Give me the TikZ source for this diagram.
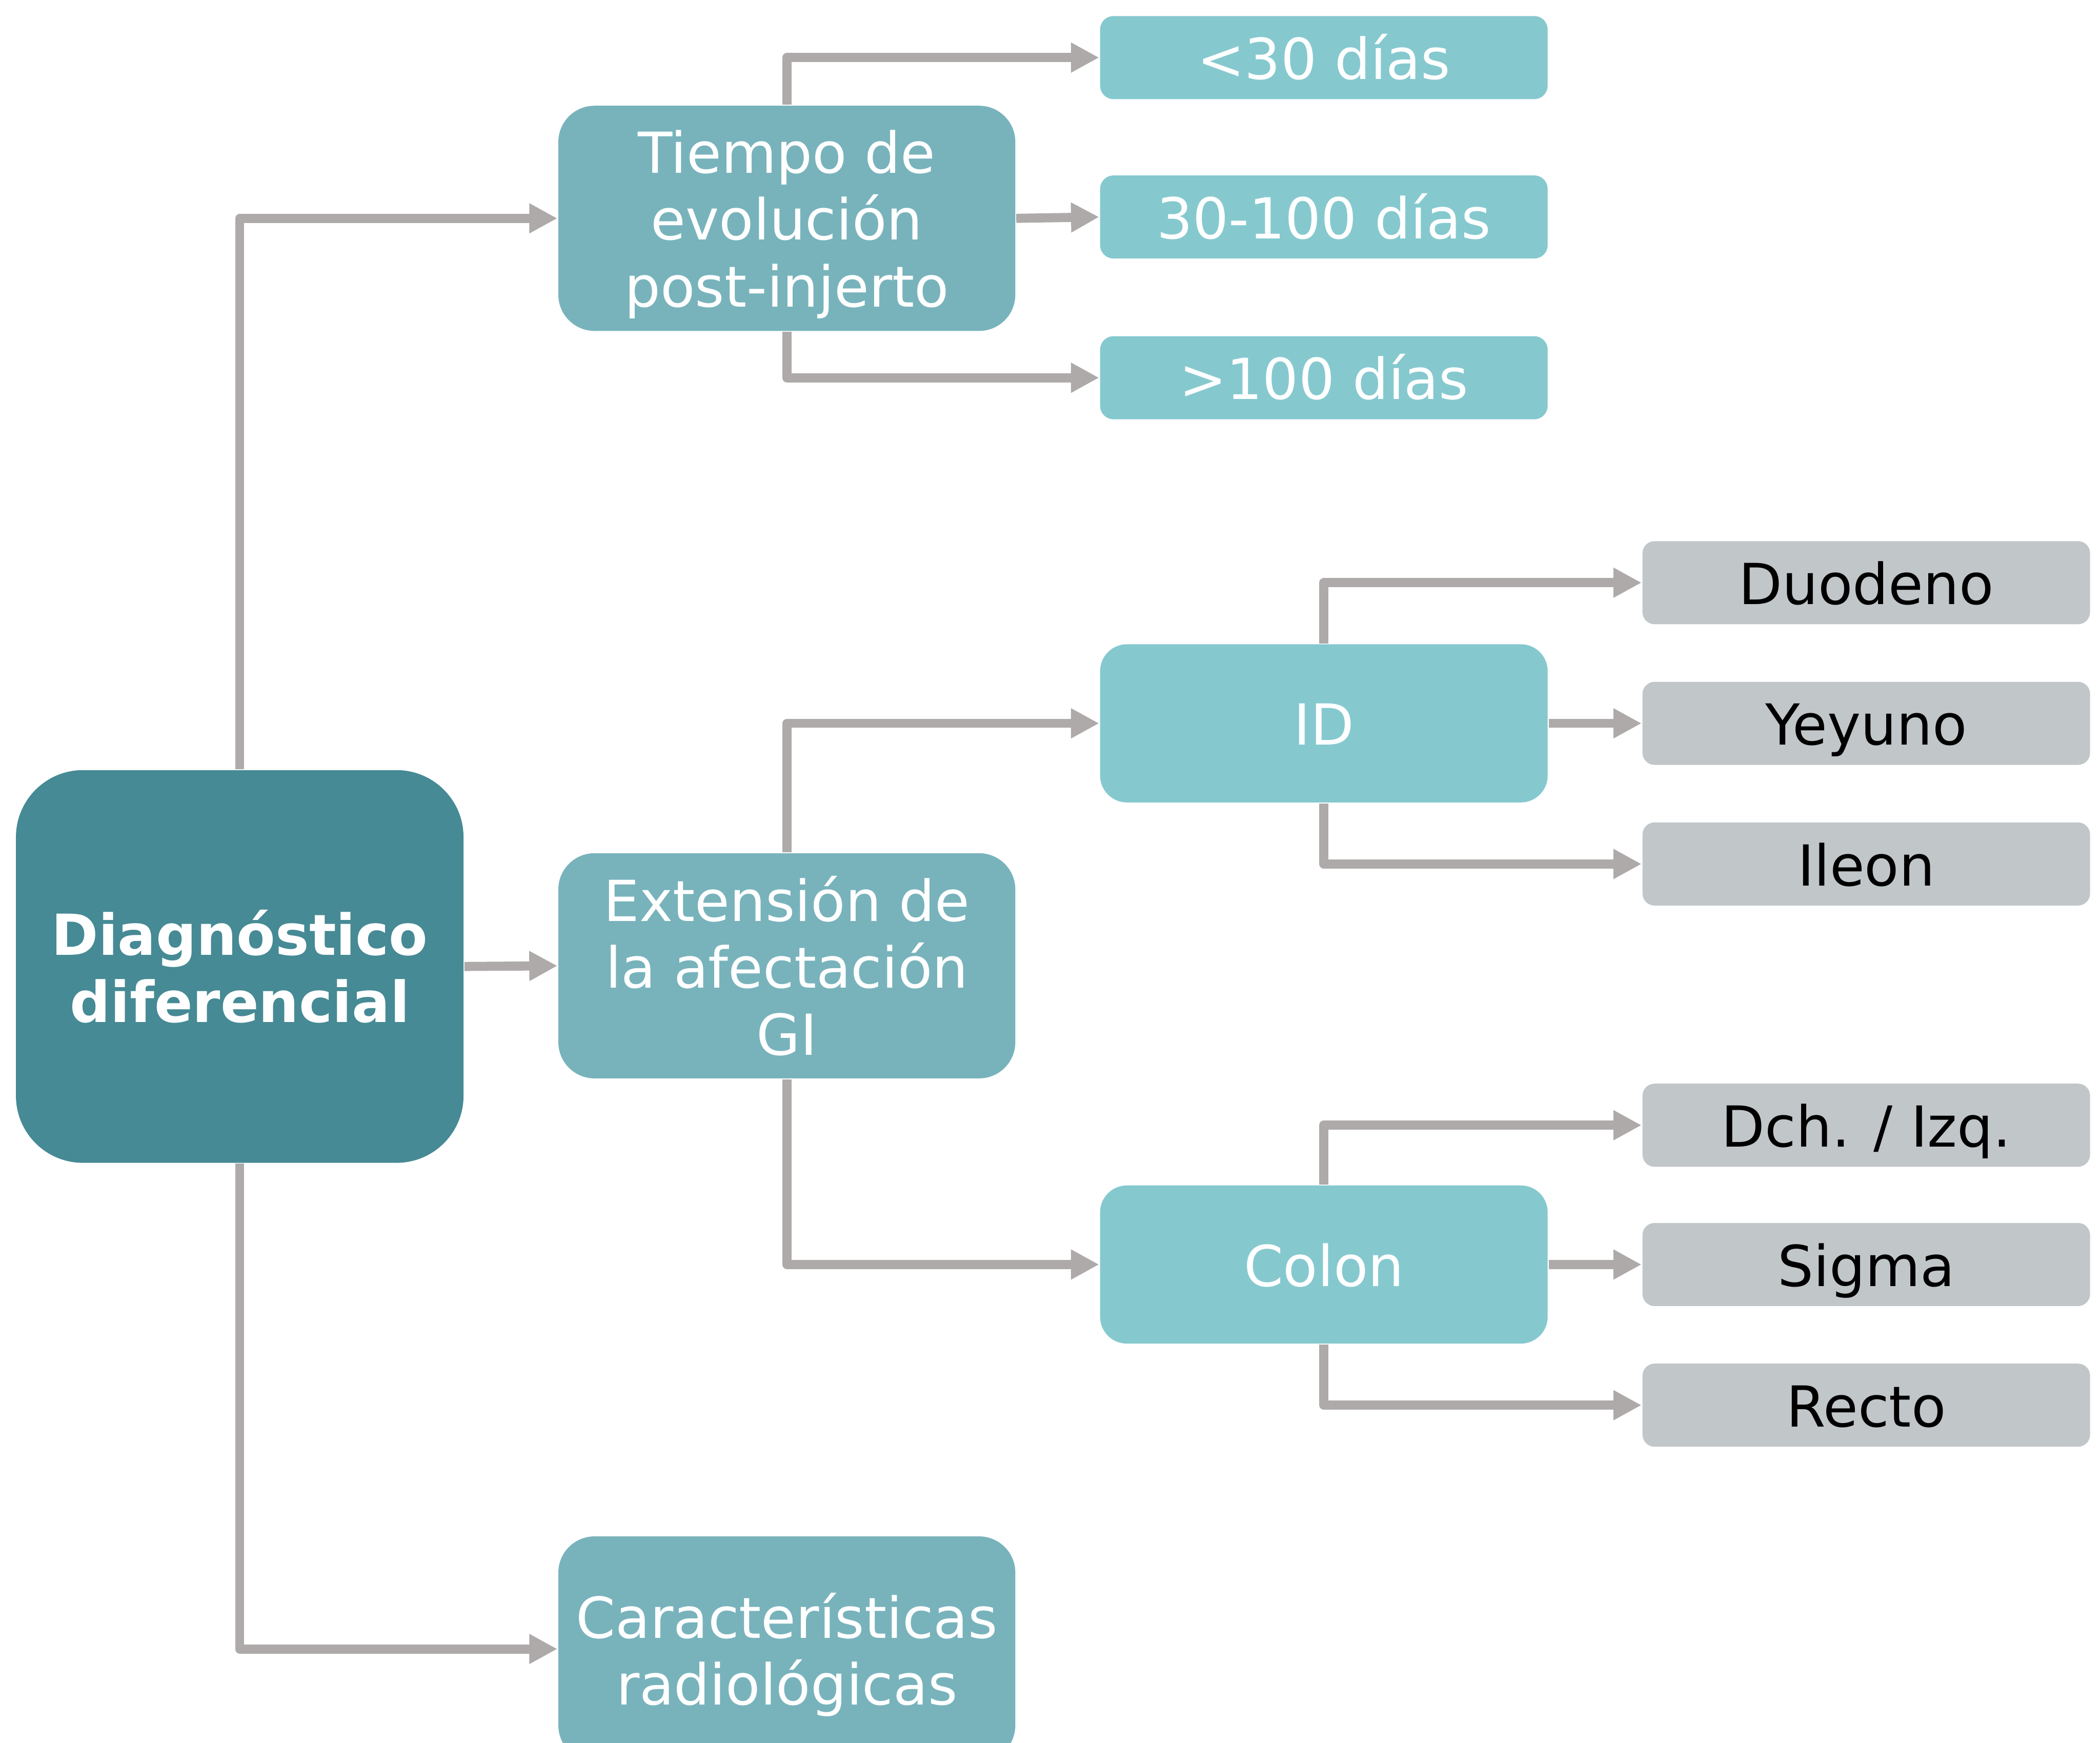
\documentclass[tikz,border=0pt]{standalone}
\usepackage{fontspec}
\setmainfont{DejaVu Sans}
\usetikzlibrary{arrows.meta}
\definecolor{diagteal}{RGB}{70,138,149}
\definecolor{midteal}{RGB}{120,179,188}
\definecolor{lightteal}{RGB}{133,201,207}
\definecolor{greybox}{RGB}{193,198,201}
\definecolor{linkgrey}{RGB}{174,170,170}
\begin{document}
\begin{tikzpicture}[x=0.01cm, y=-0.01cm, font=\fontsize{12}{14.2}\selectfont, line join=round,
	box/.style={align=center, inner sep=0pt, minimum width=3.34cm},
	onerow/.style={text height=1em, text depth=0.08em},
	mainbox/.style={box, fill=diagteal, text=white, font=\fontsize{12}{14.2}\selectfont\bfseries, minimum height=2.93cm, rounded corners=0.5cm},
	catbox/.style={box, fill=midteal, text=white, minimum width=3.41cm, minimum height=1.68cm, rounded corners=0.27cm},
	subbox/.style={box, onerow, fill=lightteal, text=white, minimum height=0.62cm, rounded corners=0.1cm},
	segbox/.style={box, onerow, fill=lightteal, text=white, minimum height=1.18cm, rounded corners=0.2cm},
	leafbox/.style={box, onerow, fill=greybox, text=black, minimum height=0.62cm, rounded corners=0.09cm},
	link/.style={draw=linkgrey, line width=0.068cm, -{Triangle[length=0.21cm, width=0.21cm]}}]
		\useasboundingbox (0,0) rectangle (1568,1301);
		% niveles
		\node[mainbox] (diag) at (179,721.5) {Diagnóstico\\diferencial};
		\node[catbox] (tiempo) at (587.5,163) {Tiempo de\\evolución\\\smash{post-injerto}};
		\node[catbox] (extension) at (587.5,721) {Extensión de\\la afectación\\GI};
		\node[catbox] (caract) at (587.5,1231) {Características\\\smash{radiológicas}};
		\node[subbox] (menos30) at (988.5,43) {<30 días};
		\node[subbox] (entre) at (988.5,162) {30-100 días};
		\node[subbox] (mas100) at (988.5,282) {>100 días};
		\node[segbox] (id) at (988.5,540) {ID};
		\node[segbox] (colon) at (988.5,944) {Colon};
		\node[leafbox] (duodeno) at (1393.5,435) {Duodeno};
		\node[leafbox] (yeyuno) at (1393.5,540) {Yeyuno};
		\node[leafbox] (ileon) at (1393.5,645) {Ileon};
		\node[leafbox] (dchizq) at (1393.5,840) {Dch. / Izq.};
		\node[leafbox] (sigma) at (1393.5,944) {Sigma};
		\node[leafbox] (recto) at (1393.5,1049) {Recto};
		% conectores
		\draw[link] (diag.north) |- (tiempo.west);
		\draw[link] (diag.east) -- (extension.west);
		\draw[link] (diag.south) |- (caract.west);
		\draw[link] (tiempo.north) |- (menos30.west);
		\draw[link] (tiempo.east) -- (entre.west);
		\draw[link] (tiempo.south) |- (mas100.west);
		\draw[link] (extension.north) |- (id.west);
		\draw[link] (extension.south) |- (colon.west);
		\draw[link] (id.north) |- (duodeno.west);
		\draw[link] (id.east) -- (yeyuno.west);
		\draw[link] (id.south) |- (ileon.west);
		\draw[link] (colon.north) |- (dchizq.west);
		\draw[link] (colon.east) -- (sigma.west);
		\draw[link] (colon.south) |- (recto.west);
\end{tikzpicture}
\end{document}
